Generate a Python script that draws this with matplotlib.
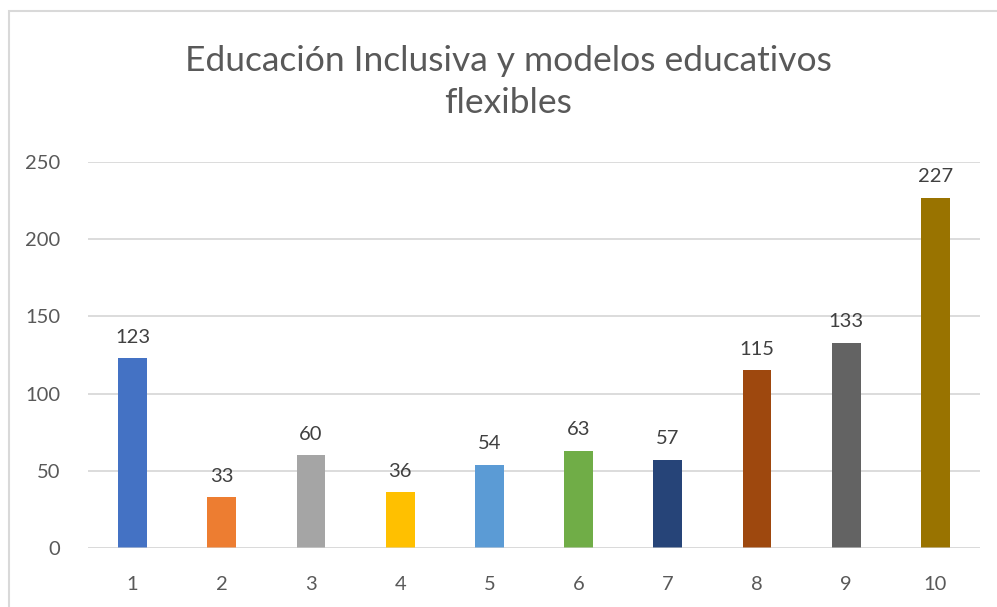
import matplotlib
matplotlib.use("Agg")
import matplotlib.pyplot as plt
from matplotlib.patches import Rectangle

categories = ["1", "2", "3", "4", "5", "6", "7", "8", "9", "10"]
values = [123, 33, 60, 36, 54, 63, 57, 115, 133, 227]
colors = ["#4472C4", "#ED7D31", "#A5A5A5", "#FFC000", "#5B9BD5",
          "#70AD47", "#264478", "#9E480E", "#636363", "#997300"]
yticks = [0, 50, 100, 150, 200, 250]
title = "Educación Inclusiva y modelos educativos\nflexibles"

plt.rcParams['font.family'] = ['Lato', 'DejaVu Sans']

W, H = 997, 607
fig = plt.figure(figsize=(W / 100, H / 100), dpi=100)
fig.patch.set_facecolor("white")

# chart border (cropped at right and bottom)
fig.patches.append(Rectangle((9 / W, -0.1), 1.2, (H - 11) / H + 0.1,
                             transform=fig.transFigure, fill=False,
                             edgecolor="#D9D9D9", linewidth=1.5))

ax = fig.add_axes([88 / W, (H - 548) / H, (980 - 88) / W, (548 - 162) / H])
x = list(range(len(categories)))
bars = ax.bar(x, values, width=0.325, color=colors, zorder=2)
ax.set_xlim(-0.5, len(categories) - 0.5)
ax.set_ylim(0, 250)
ax.set_yticks(yticks)
ax.set_xticks(x)
ax.set_xticklabels(categories)
ax.yaxis.grid(True, color="#D9D9D9", linewidth=1.3, zorder=1)
ax.set_axisbelow(True)
for s in ax.spines.values():
    s.set_visible(False)
ax.axhline(0, color="#D9D9D9", linewidth=1.3, zorder=3, alpha=0.6)
ax.tick_params(axis="both", length=0, labelsize=14.5, labelcolor="#595959")
ax.tick_params(axis="y", pad=20)
ax.tick_params(axis="x", pad=20)

for xi, v in zip(x, values):
    ax.annotate(str(v), (xi, v), xytext=(0, 9), textcoords="offset points",
                ha="center", va="bottom", fontsize=14.5, color="#404040")

fig.text(0.5 + 10 / W, 1 - 82 / H, title, ha="center", va="center",
         fontsize=25.5, color="#595959", linespacing=1.42)

fig.savefig("out.png", dpi=100)
